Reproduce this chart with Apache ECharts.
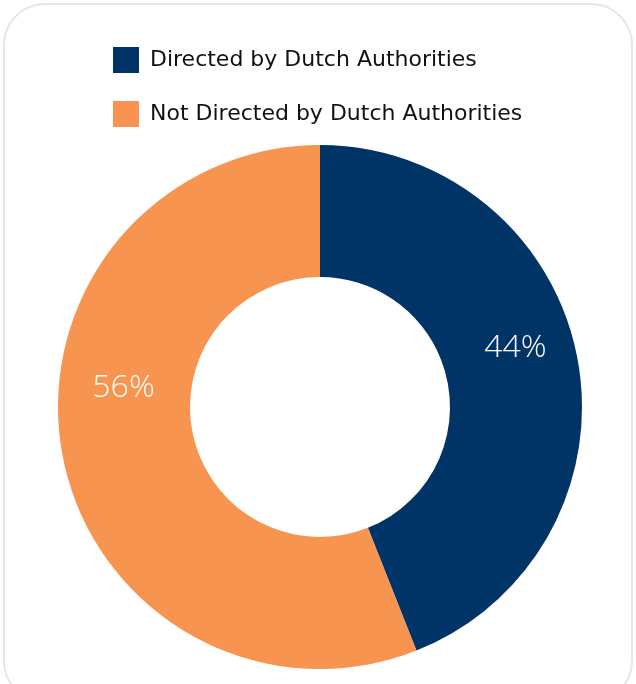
<!DOCTYPE html>
<html>
<head>
<meta charset="utf-8">
<script src="https://cdn.jsdelivr.net/npm/echarts@6/dist/echarts.min.js"></script>
<style>
  html, body { margin: 0; padding: 0; background: #fff; overflow: hidden; }
  #frame {
    position: absolute; left: 3px; top: 3px; width: 630px; height: 700px;
    border: 2px solid #e6e6e6; border-radius: 42px; box-sizing: border-box;
  }
  #chart { position: absolute; left: 0; top: 0; width: 636px; height: 684px; }
</style>
</head>
<body>
<div id="frame"></div>
<div id="chart"></div>
<script>
var categories = ["Directed by Dutch Authorities", "Not Directed by Dutch Authorities"];
var values = [44, 56];
var colors = ["#003366", "#F79450"];

var chart = echarts.init(document.getElementById("chart"));

// label nudges (pixels) so the percentages sit where the original puts them
var labelShift = [[0, -22], [-1, -56]];

var option = {
  color: colors,
  legend: {
    orient: "vertical",
    left: 108,
    top: 42,
    itemWidth: 26,
    itemHeight: 26,
    itemGap: 28,
    icon: "rect",
    data: categories,
    textStyle: {
      fontFamily: "DejaVu Sans",
      fontSize: 22,
      color: "#111",
      padding: [0, 0, 0, 6]
    }
  },
  series: [
    {
      type: "pie",
      center: [320, 407],
      radius: [130, 262],
      startAngle: 90,
      clockwise: true,
      silent: true,
      label: {
        show: true,
        position: "inside",
        formatter: "{c}%",
        color: "#fff",
        fontFamily: "Open Sans",
        fontSize: 32,
        fontWeight: 300
      },
      labelLine: { show: false },
      labelLayout: function (params) {
        var s = labelShift[params.dataIndex];
        return { dx: s[0], dy: s[1] };
      },
      data: categories.map(function (name, i) {
        return { name: name, value: values[i] };
      })
    }
  ]
};
chart.setOption(option);
</script>
</body>
</html>
